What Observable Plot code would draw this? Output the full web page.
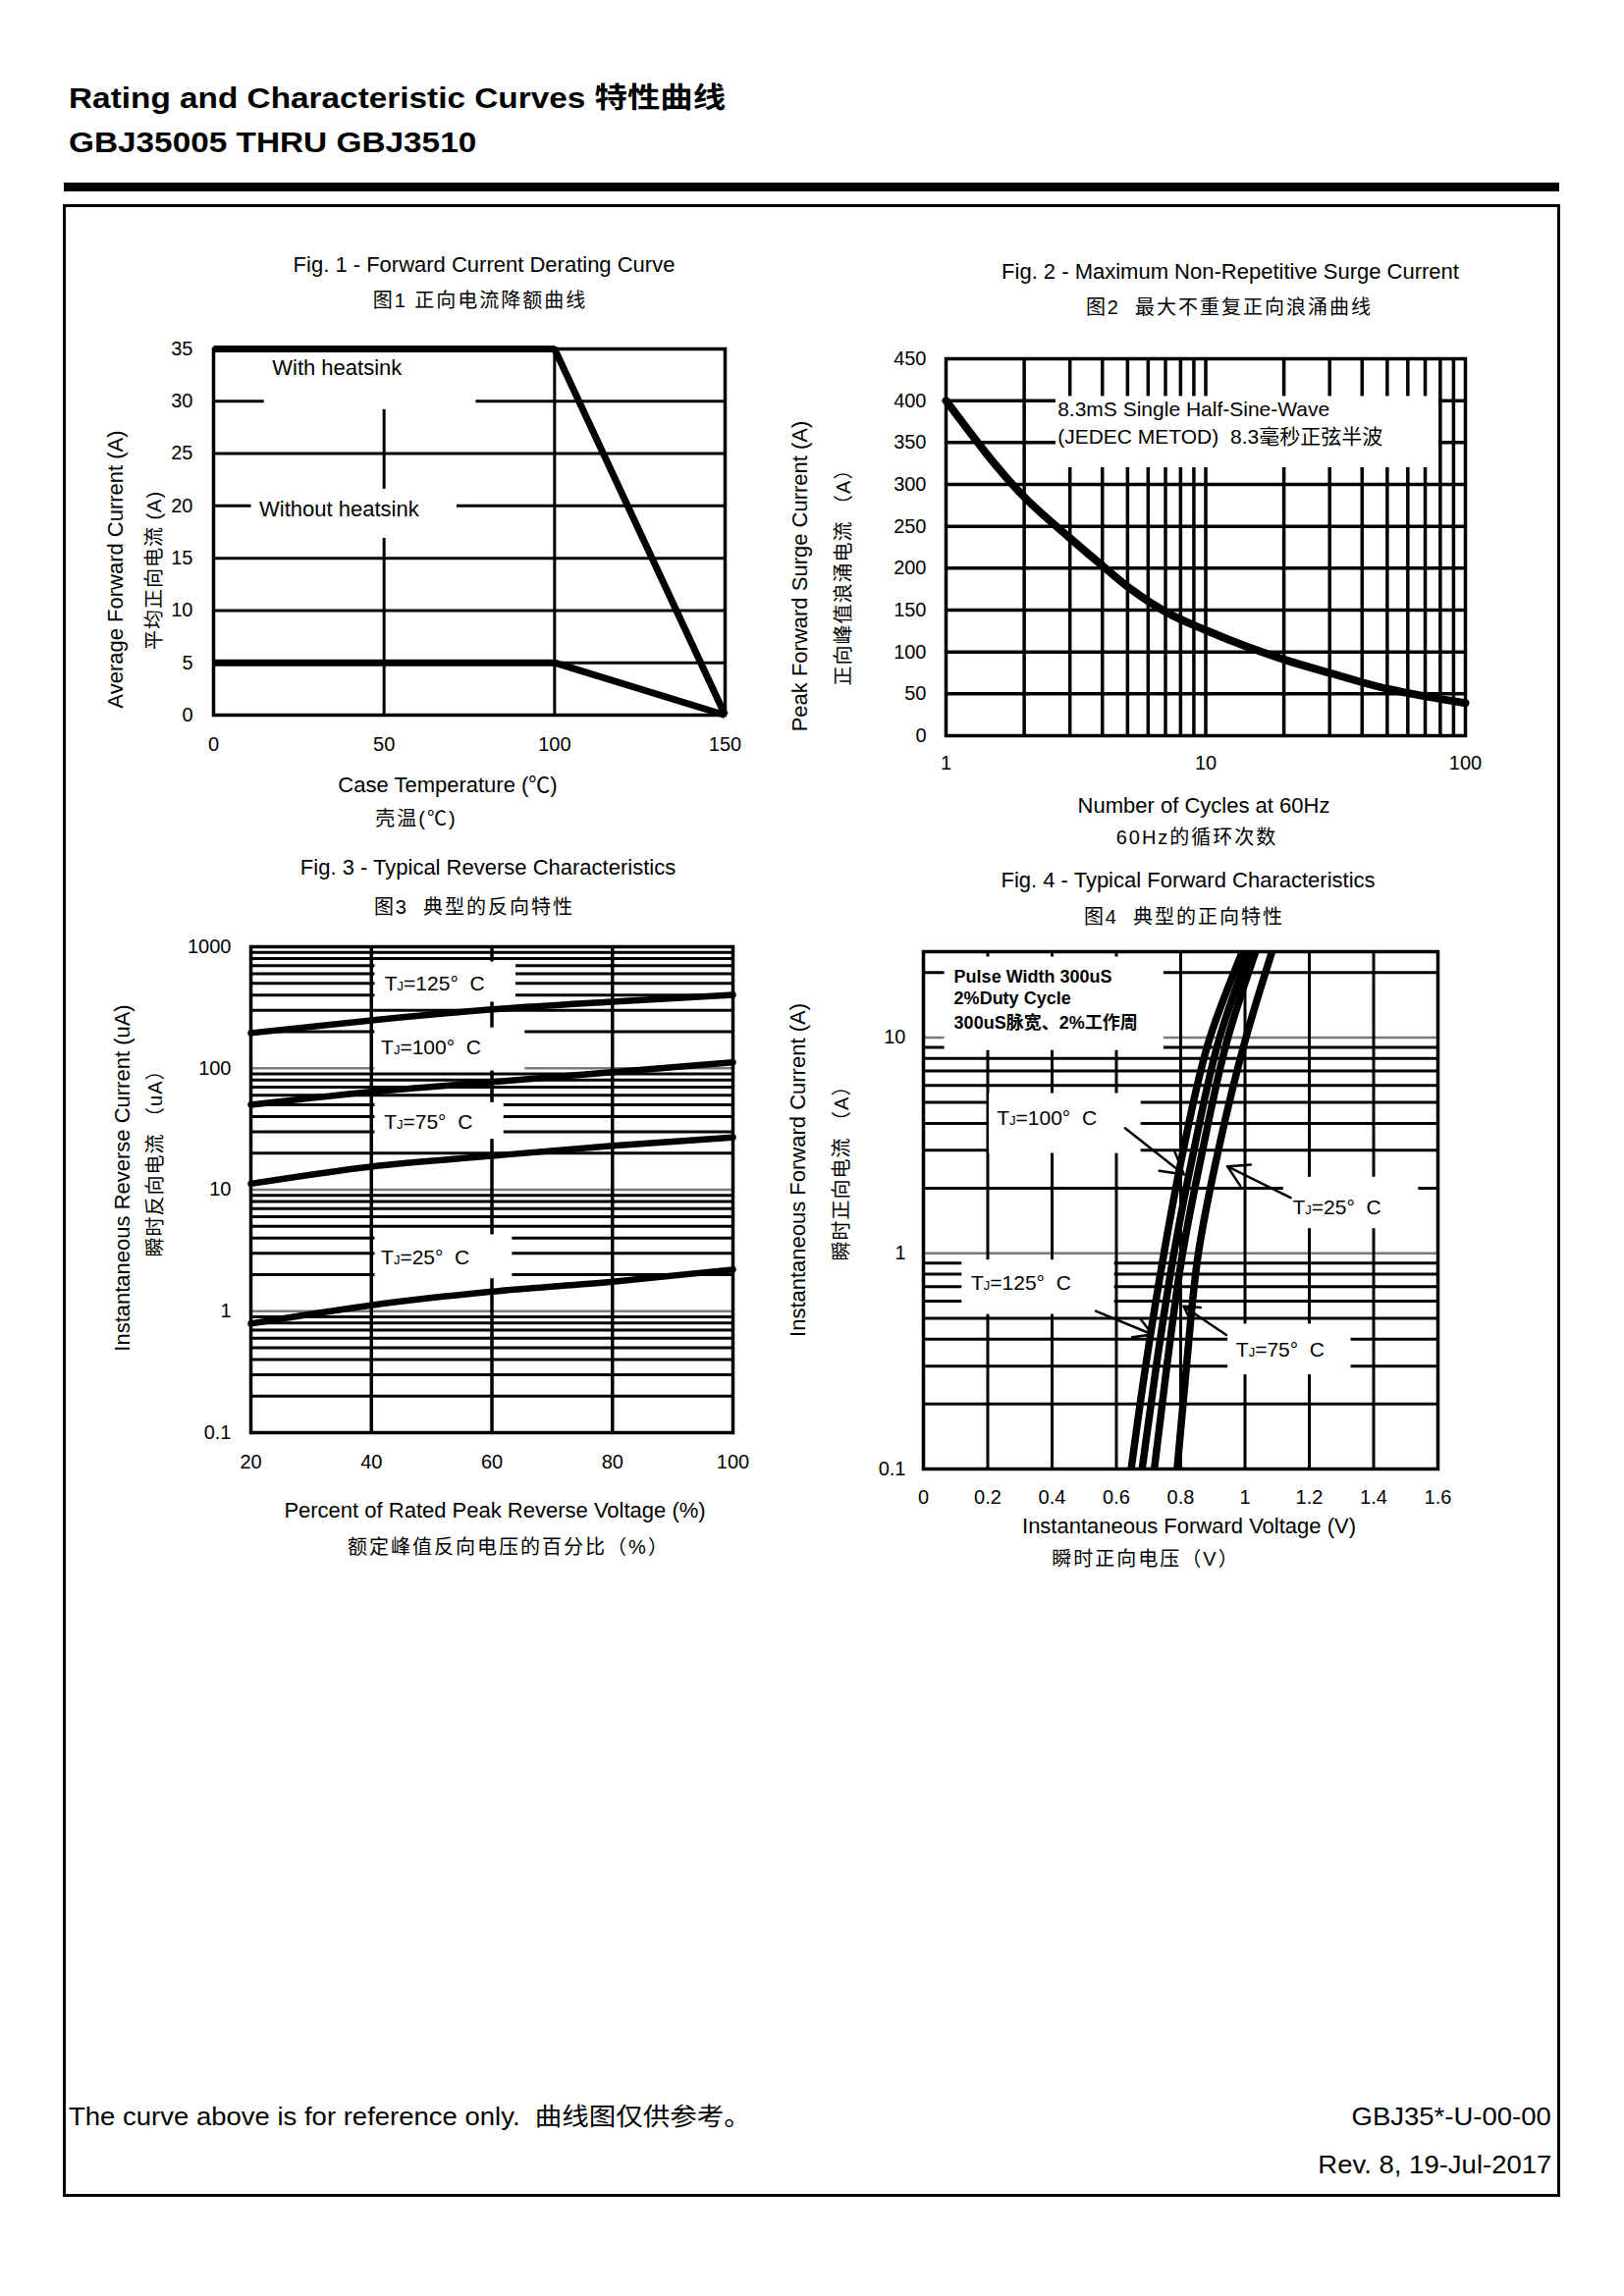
<!DOCTYPE html>
<html>
<head>
<meta charset="utf-8">
<script src="https://cdn.jsdelivr.net/npm/d3@7"></script>
<script src="https://cdn.jsdelivr.net/npm/@observablehq/plot@0.6"></script>
<style>
html,body{margin:0;padding:0;background:#fff;}
#page{position:relative;width:1654px;height:2339px;background:#fff;overflow:hidden;
  font-family:"Liberation Sans",Arial,"Noto Sans CJK SC",sans-serif;color:#000;}
.abs{position:absolute;white-space:nowrap;line-height:1;}
.c{transform:translate(-50%,-50%);}
.r{transform:translate(-50%,-50%) rotate(-90deg);}
.t22{font-size:22px;}
.cn{font-size:20px;letter-spacing:2px;font-family:"Liberation Sans","Noto Sans CJK SC",sans-serif;}
.cnv{font-size:20px;letter-spacing:1px;font-family:"Liberation Sans","Noto Sans CJK SC",sans-serif;}
svg{position:absolute;}
</style>
</head>
<body>
<div id="page">
  <div class="abs" style="left:70px;top:86px;font-size:29px;font-weight:bold;transform:scaleX(1.15);transform-origin:left top;">Rating and Characteristic Curves 特性曲线</div>
  <div class="abs" style="left:70px;top:131px;font-size:29px;font-weight:bold;transform:scaleX(1.15);transform-origin:left top;">GBJ35005 THRU GBJ3510</div>
  <div class="abs" style="left:65px;top:186px;width:1523px;height:9px;background:#000;"></div>
  <div class="abs" style="left:64px;top:208px;width:1525px;height:2030px;border:3px solid #000;box-sizing:border-box;"></div>

  <div class="abs c t22" style="left:493px;top:270px;">Fig. 1 - Forward Current Derating Curve</div>
  <div class="abs c cn" style="left:489px;top:306px;">图1 正向电流降额曲线</div>
  <div class="abs c t22" style="left:1253px;top:277px;">Fig. 2 - Maximum Non-Repetitive Surge Current</div>
  <div class="abs c cn" style="left:1252px;top:313px;">图2&nbsp;&nbsp;最大不重复正向浪涌曲线</div>
  <div class="abs c t22" style="left:497px;top:884px;">Fig. 3 - Typical Reverse Characteristics</div>
  <div class="abs c cn" style="left:483px;top:924px;">图3&nbsp;&nbsp;典型的反向特性</div>
  <div class="abs c t22" style="left:1210px;top:897px;">Fig. 4 - Typical Forward Characteristics</div>
  <div class="abs c cn" style="left:1206px;top:934px;">图4&nbsp;&nbsp;典型的正向特性</div>

  <div class="abs c t22" style="left:456px;top:800px;">Case Temperature (℃)</div>
  <div class="abs c cn" style="left:424px;top:834px;">壳温(℃)</div>
  <div class="abs c t22" style="left:1226px;top:821px;">Number of Cycles at 60Hz</div>
  <div class="abs c cn" style="left:1219px;top:853px;">60Hz的循环次数</div>
  <div class="abs c t22" style="left:504px;top:1539px;">Percent of Rated Peak Reverse Voltage (%)</div>
  <div class="abs c cn" style="left:518px;top:1576px;">额定峰值反向电压的百分比（%）</div>
  <div class="abs c t22" style="left:1211px;top:1555px;">Instantaneous Forward Voltage (V)</div>
  <div class="abs c cn" style="left:1167px;top:1588px;">瞬时正向电压（V）</div>

  <div class="abs r t22" style="left:118px;top:580px;">Average Forward Current (A)</div>
  <div class="abs r cnv" style="left:157px;top:581px;">平均正向电流 (A)</div>
  <div class="abs r t22" style="left:815px;top:587px;">Peak Forward Surge Current (A)</div>
  <div class="abs r cnv" style="left:859px;top:583px;">正向峰值浪涌电流 （A）</div>
  <div class="abs r t22" style="left:125px;top:1200px;">Instantaneous Reverse Current (uA)</div>
  <div class="abs r cnv" style="left:158px;top:1180px;">瞬时反向电流 （uA）</div>
  <div class="abs r t22" style="left:813px;top:1192px;">Instantaneous Forward Current (A)</div>
  <div class="abs r cnv" style="left:857px;top:1190px;">瞬时正向电流 （A）</div>

  <div class="abs" style="left:70px;top:2144px;font-size:25px;transform:scaleX(1.1);transform-origin:left top;">The curve above is for reference only.&nbsp; 曲线图仅供参考。</div>
  <div class="abs" style="right:74px;top:2144px;font-size:25px;transform:scaleX(1.1);transform-origin:right top;">GBJ35*-U-00-00</div>
  <div class="abs" style="right:74px;top:2193px;font-size:25px;transform:scaleX(1.1);transform-origin:right top;">Rev. 8, 19-Jul-2017</div>
</div>
<script>
// ================= DATA =================
// Fig. 1 - Forward Current Derating Curve
const fig1Temp = [0, 100, 150];
const fig1WithHeatsink = [35, 35, 0];
const fig1WithoutHeatsink = [5, 5, 0];
const fig1XTicks = [0, 50, 100, 150];
const fig1YTicks = [0, 5, 10, 15, 20, 25, 30, 35];
const fig1GridX = [50, 100];
const fig1GridY = [5, 10, 15, 20, 25, 30];
// annotations (data units)
const fig1Notes = ["With heatsink", "Without heatsink"];
const fig1NoteTemp = [17.2, 13.4];
const fig1NoteCurrent = [32.4, 18.9];
const fig1MaskTemp = [[14.9, 77], [11.1, 71.4]];
const fig1MaskCurrent = [[29.2, 35], [16.9, 21.6]];

// Fig. 2 - Maximum Non-Repetitive Surge Current
const fig2Cycles = [1, 2, 3, 4, 5, 7, 10, 20, 30, 50, 70, 100];
const fig2Current = [400, 285, 236, 203, 178, 148, 126, 91, 75, 56, 47, 39];
const fig2XTicks = [1, 10, 100];
const fig2YTicks = [0, 50, 100, 150, 200, 250, 300, 350, 400, 450];
const fig2GridX = [2, 3, 4, 5, 6, 7, 8, 9, 10, 20, 30, 40, 50, 60, 70, 80, 90];
const fig2GridY = [50, 100, 150, 200, 250, 300, 350, 400];
const fig2Notes = ["8.3mS Single Half-Sine-Wave", "(JEDEC METOD)\u00a0\u00a08.3毫秒正弦半波"];
const fig2NoteCycles = [2.69, 2.69];
const fig2NoteCurrent = [381.7, 348.4];
const fig2MaskCycles = [[2.65, 79]];
const fig2MaskCurrent = [[320, 405]];

// Fig. 3 - Typical Reverse Characteristics
const fig3Percent = [20, 40, 60, 80, 100];
const fig3Temps = ["125", "100", "75", "25"];
const fig3Tj125 = [195, 248, 305, 353, 402];
const fig3Tj100 = [50, 64, 77, 93, 112];
const fig3Tj75 = [11.2, 15.5, 19, 23, 27];
const fig3Tj25 = [0.79, 1.12, 1.45, 1.75, 2.2];
const fig3XTicks = [20, 40, 60, 80, 100];
const fig3YTicks = [0.1, 1, 10, 100, 1000];
const fig3GridX = [40, 60, 80];
const fig3GridMinor = [0.2, 0.3, 0.4, 0.5, 0.6, 0.7, 0.8, 0.9, 2, 3, 4, 5, 6, 7, 8, 9,
  20, 30, 40, 50, 60, 70, 80, 90, 200, 300, 400, 500, 600, 700, 800, 900];
const fig3GridDecade = [1, 10, 100];
const fig3Notes = ["TJ=125°\u00a0\u00a0C", "TJ=100°\u00a0\u00a0C", "TJ=75°\u00a0\u00a0C", "TJ=25°\u00a0\u00a0C"];
const fig3NotePercent = [42.2, 41.6, 42.1, 41.6];
const fig3NoteCurrent = [431, 129, 31.4, 2.44];
const fig3MaskPercent = [[40.6, 64], [40.6, 65.5], [40.6, 62], [40.6, 63.4]];
const fig3MaskCurrent = [[350, 750], [95, 215], [26, 52], [1.85, 4.25]];

// Fig. 4 - Typical Forward Characteristics
const fig4Current = [0.1, 0.3, 1, 3, 10, 25];
const fig4Tj125 = [0.646, 0.691, 0.748, 0.808, 0.891, 0.992];
const fig4Tj100 = [0.680, 0.724, 0.779, 0.841, 0.921, 1.013];
const fig4Tj75 = [0.718, 0.757, 0.806, 0.868, 0.947, 1.033];
const fig4Tj25 = [0.789, 0.818, 0.855, 0.917, 1.003, 1.084];
const fig4XTicks = [0, 0.2, 0.4, 0.6, 0.8, 1, 1.2, 1.4, 1.6];
const fig4YTicks = [0.1, 1, 10];
const fig4GridX = [0.2, 0.4, 0.6, 0.8, 1, 1.2, 1.4];
const fig4GridMinor = [0.2, 0.3, 0.4, 0.5, 0.6, 0.7, 0.8, 0.9, 2, 3, 4, 5, 6, 7, 8, 9, 20];
const fig4GridDecade = [1, 10];
const fig4Condition = ["Pulse Width 300uS", "2%Duty Cycle", "300uS脉宽、2%工作周"];
const fig4CondVoltage = [0.095, 0.095, 0.095];
const fig4CondCurrent = [18.0, 14.2, 11.0];
const fig4Notes = ["TJ=100°\u00a0\u00a0C", "TJ=25°\u00a0\u00a0C", "TJ=125°\u00a0\u00a0C", "TJ=75°\u00a0\u00a0C"];
const fig4NoteVoltage = [0.228, 1.148, 0.148, 0.972];
const fig4NoteCurrent = [3.92, 1.51, 0.678, 0.33];
const fig4ArrowFromV = [0.627, 1.142, 0.536, 0.942];
const fig4ArrowFromI = [3.8, 1.81, 0.54, 0.418];
const fig4ArrowToV = [0.81, 0.945, 0.712, 0.809];
const fig4ArrowToI = [2.32, 2.53, 0.42, 0.568];
const fig4MaskVoltage = [[0.066, 0.748], [0.205, 0.677], [1.12, 1.54], [0.12, 0.594], [0.947, 1.33]];
const fig4MaskCurrent = [[8.7, 23.6], [2.9, 5.5], [1.3, 2.25], [0.52, 0.93], [0.273, 0.469]];

// ================= RENDER =================
const FONT = '"Liberation Sans", Arial, "Noto Sans CJK SC", sans-serif';
const page = document.getElementById("page");
const baseStyle = {fontFamily: FONT, fontSize: "20px", background: "transparent", color: "#000", overflow: "visible"};
const GRAY = "#7a7a7a";

function place(svg, left, top) {
  svg.style.left = left + "px";
  svg.style.top = top + "px";
  // small subscript J in "TJ" labels
  d3.select(svg).selectAll("text").each(function () {
    const t = this.textContent;
    if (t.startsWith("TJ=")) {
      const s = d3.select(this);
      s.text(null);
      s.append("tspan").text("T");
      s.append("tspan").attr("font-size", "0.62em").text("J");
      s.append("tspan").text(t.slice(2));
    }
  });
  page.appendChild(svg);
}
const masks = (xs, ys) => xs.map((x, k) => ({x1: x[0], x2: x[1], y1: ys[k][0], y2: ys[k][1]}));
const notes = (texts, xs, ys) => texts.map((text, k) => ({text, x: xs[k], y: ys[k]}));

// ---- Fig 1 ----
const fig1Rows = fig1Temp.flatMap((t, k) => [
  {t, a: fig1WithHeatsink[k], s: "with"},
  {t, a: fig1WithoutHeatsink[k], s: "without"}
]);
place(Plot.plot({
  width: 680, height: 460, marginLeft: 117, marginRight: 42, marginTop: 25, marginBottom: 62,
  style: baseStyle,
  x: {domain: [0, 150], ticks: fig1XTicks, tickSize: 0, tickPadding: 22, label: null},
  y: {domain: [0, 35], ticks: fig1YTicks, tickSize: 0, tickPadding: 21, label: null},
  marks: [
    Plot.ruleY(fig1GridY, {stroke: "#000", strokeWidth: 3}),
    Plot.ruleX(fig1GridX, {stroke: "#000", strokeWidth: 3}),
    Plot.rect(masks(fig1MaskTemp, fig1MaskCurrent), {x1: "x1", x2: "x2", y1: "y1", y2: "y2", fill: "white"}),
    Plot.line(fig1Rows, {x: "t", y: "a", z: "s", stroke: "#000", strokeWidth: 7, strokeLinejoin: "miter", strokeLinecap: "butt"}),
    Plot.frame({stroke: "#000", strokeWidth: 3.5}),
    Plot.text(notes(fig1Notes, fig1NoteTemp, fig1NoteCurrent), {x: "x", y: "y", text: "text", textAnchor: "start", fontSize: 22, dy: -8, fill: "#000"})
  ]
}), 100, 330);

// ---- Fig 2 ----
const fig2Rows = fig2Cycles.map((n, k) => ({n, a: fig2Current[k]}));
place(Plot.plot({
  width: 640, height: 460, marginLeft: 83, marginRight: 28, marginTop: 25, marginBottom: 51,
  style: baseStyle,
  x: {type: "log", domain: [1, 100], ticks: fig2XTicks, tickFormat: d => String(d), tickSize: 0, tickPadding: 20, label: null},
  y: {domain: [0, 450], ticks: fig2YTicks, tickSize: 0, tickPadding: 20, label: null},
  marks: [
    Plot.ruleX(fig2GridX, {stroke: "#000", strokeWidth: 3.5}),
    Plot.ruleY(fig2GridY, {stroke: "#000", strokeWidth: 3.5}),
    Plot.rect(masks(fig2MaskCycles, fig2MaskCurrent), {x1: "x1", x2: "x2", y1: "y1", y2: "y2", fill: "white"}),
    Plot.line(fig2Rows, {x: "n", y: "a", curve: "monotone-x", stroke: "#000", strokeWidth: 8}),
    Plot.frame({stroke: "#000", strokeWidth: 3.5}),
    Plot.text(notes(fig2Notes, fig2NoteCycles, fig2NoteCurrent), {x: "x", y: "y", text: "text", textAnchor: "start", fontSize: 21, dy: -7, fill: "#000"})
  ]
}), 880, 340);

// ---- Fig 3 ----
const fig3Series = [fig3Tj125, fig3Tj100, fig3Tj75, fig3Tj25];
const fig3Rows = fig3Temps.flatMap((T, s) => fig3Percent.map((p, k) => ({p, a: fig3Series[s][k], T})));
place(Plot.plot({
  width: 600, height: 580, marginLeft: 75, marginRight: 34, marginTop: 24, marginBottom: 61,
  style: baseStyle,
  x: {domain: [20, 100], ticks: fig3XTicks, tickSize: 0, tickPadding: 22, label: null},
  y: {type: "log", domain: [0.1, 1000], ticks: fig3YTicks, tickFormat: d => String(d), tickSize: 0, tickPadding: 20, label: null},
  marks: [
    Plot.ruleY(fig3GridMinor, {stroke: "#000", strokeWidth: 3}),
    Plot.ruleY(fig3GridDecade, {stroke: GRAY, strokeWidth: 2.5}),
    Plot.ruleX(fig3GridX, {stroke: "#000", strokeWidth: 3.5}),
    Plot.rect(masks(fig3MaskPercent, fig3MaskCurrent), {x1: "x1", x2: "x2", y1: "y1", y2: "y2", fill: "white"}),
    Plot.line(fig3Rows, {x: "p", y: "a", z: "T", curve: "monotone-x", stroke: "#000", strokeWidth: 6.5}),
    Plot.frame({stroke: "#000", strokeWidth: 3.5}),
    Plot.text(notes(fig3Notes, fig3NotePercent, fig3NoteCurrent), {x: "x", y: "y", text: "text", textAnchor: "start", fontSize: 21, dy: -7, fill: "#000"})
  ]
}), 180, 940);

// ---- Fig 4 ----
const fig4Series = [fig4Tj125, fig4Tj100, fig4Tj75, fig4Tj25];
const fig4Rows = ["125", "100", "75", "25"].flatMap((T, s) => fig4Current.map((a, k) => ({v: fig4Series[s][k], a, T})));
const fig4Arrows = fig4ArrowFromV.map((v, k) => ({x1: v, y1: fig4ArrowFromI[k], x2: fig4ArrowToV[k], y2: fig4ArrowToI[k]}));
place(Plot.plot({
  width: 630, height: 600, marginLeft: 70, marginRight: 36, marginTop: 24, marginBottom: 49,
  style: baseStyle,
  x: {domain: [0, 1.6], ticks: fig4XTicks, tickFormat: d => String(d), tickSize: 0, tickPadding: 21, label: null},
  y: {type: "log", domain: [0.1, 25], ticks: fig4YTicks, tickFormat: d => String(d), tickSize: 0, tickPadding: 18, label: null},
  marks: [
    Plot.ruleY(fig4GridMinor, {stroke: "#000", strokeWidth: 3}),
    Plot.ruleY(fig4GridDecade, {stroke: GRAY, strokeWidth: 2.5}),
    Plot.ruleX(fig4GridX, {stroke: "#000", strokeWidth: 3}),
    Plot.rect(masks(fig4MaskVoltage, fig4MaskCurrent), {x1: "x1", x2: "x2", y1: "y1", y2: "y2", fill: "white"}),
    Plot.line(fig4Rows, {x: "v", y: "a", z: "T", curve: "monotone-y", stroke: "#000", strokeWidth: 7.5, clip: true}),
    Plot.arrow(fig4Arrows, {x1: "x1", y1: "y1", x2: "x2", y2: "y2", stroke: "#000", strokeWidth: 2.5, headLength: 16}),
    Plot.frame({stroke: "#000", strokeWidth: 3.5}),
    Plot.text(notes(fig4Condition, fig4CondVoltage, fig4CondCurrent), {x: "x", y: "y", text: "text", textAnchor: "start", fontSize: 18, fontWeight: "bold", dy: -6, fill: "#000"}),
    Plot.text(notes(fig4Notes, fig4NoteVoltage, fig4NoteCurrent), {x: "x", y: "y", text: "text", textAnchor: "start", fontSize: 21, dy: -7, fill: "#000"})
  ]
}), 870, 945);
</script>
</body>
</html>
